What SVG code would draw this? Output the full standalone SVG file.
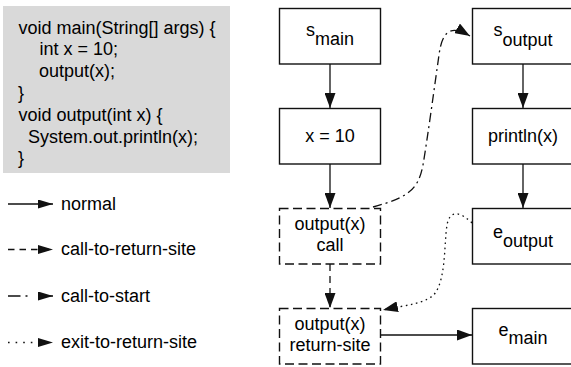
<svg xmlns="http://www.w3.org/2000/svg" width="571" height="367" viewBox="0 0 571 367">
<style>
text{font-family:"Liberation Sans",Arial,sans-serif;font-size:18px;fill:#000}
.c{text-anchor:middle}
.box{fill:#fff;stroke:#111;stroke-width:1.4}
.dbox{fill:#fff;stroke:#111;stroke-width:1.4;stroke-dasharray:9,4.5}
.e{fill:none;stroke:#111;stroke-width:1.3}
.n{marker-end:url(#ah)}
.l{marker-end:url(#al)}
.d{stroke-dasharray:7,5}
.dd{stroke-dasharray:9,4,2,4}
.dt{stroke-dasharray:1.6,3.6}
</style>
<defs>
<marker id="ah" viewBox="0 0 15 11" refX="15" refY="5.5" markerWidth="15" markerHeight="11" orient="auto" markerUnits="userSpaceOnUse">
<path d="M0,0 L15,5.5 L0,11 z" fill="#111"/>
</marker>
<marker id="al" viewBox="0 0 15 9" refX="15" refY="4.5" markerWidth="15" markerHeight="9" orient="auto" markerUnits="userSpaceOnUse">
<path d="M0,0 L15,4.5 L0,9 z" fill="#111"/>
</marker>
</defs>
<g id="code">
<rect x="3" y="6" width="227" height="167" fill="#d9d9d9"/>
<text x="18.5" y="33.5">void main(String[] args) {</text>
<text x="39.5" y="55.3">int x = 10;</text>
<text x="39" y="77.1">output(x);</text>
<text x="18" y="98.9">}</text>
<text x="18.5" y="120.7">void output(int x) {</text>
<text x="28" y="142.5">System.out.println(x);</text>
<text x="18" y="164.3">}</text>
</g>
<g id="legend">
<line class="e l" x1="8" y1="204" x2="53" y2="204"/>
<text x="61" y="209.5">normal</text>
<line class="e l" x1="8" y1="249.5" x2="53" y2="249.5" style="stroke-dasharray:6.5,5"/>
<text x="61" y="255">call-to-return-site</text>
<line class="e l" x1="8" y1="296" x2="53" y2="296" style="stroke-dasharray:12.5,5,2,20"/>
<text x="61" y="301.5">call-to-start</text>
<line class="e l" x1="8" y1="342.5" x2="53" y2="342.5" style="stroke-dasharray:1.6,6"/>
<text x="61" y="348">exit-to-return-site</text>
</g>
<g id="edges">
<line class="e n" x1="330" y1="64" x2="330" y2="108"/>
<line class="e n" x1="330" y1="164" x2="330" y2="208"/>
<line class="e n d" x1="330" y1="264" x2="330" y2="308"/>
<line class="e n" x1="381" y1="335" x2="472" y2="335"/>
<line class="e n" x1="523" y1="64" x2="523" y2="108"/>
<line class="e n" x1="523" y1="164" x2="523" y2="208"/>
<path class="e n dd" d="M373,207 C405,198 418,192 423,165 C428,135 434,90 439,55 C442,32 450,24 470,36"/>
<path class="e n dt" d="M472,223 C462,213 450,208 447,225 C444,245 446,275 436,292 C428,304 405,305 383,310"/>
</g>
<g id="s_main">
<rect class="box" x="279.5" y="8.5" width="101" height="55.5"/>
<text class="c" x="330" y="36">s<tspan dy="9">main</tspan></text>
</g>
<g id="x10">
<rect class="box" x="279.5" y="108.5" width="101" height="55.5"/>
<text class="c" x="330" y="142">x = 10</text>
</g>
<g id="call">
<rect class="dbox" x="279.5" y="208.5" width="101" height="55.5"/>
<text class="c" x="330" y="229.5">output(x)</text>
<text class="c" x="330" y="251">call</text>
</g>
<g id="return_site">
<rect class="dbox" x="279.5" y="308.5" width="101" height="55.5"/>
<text class="c" x="330" y="329.5">output(x)</text>
<text class="c" x="330" y="351">return-site</text>
</g>
<g id="s_output">
<rect class="box" x="472.5" y="8.5" width="102" height="55.5"/>
<text class="c" x="523" y="36">s<tspan dy="9.5">output</tspan></text>
</g>
<g id="println">
<rect class="box" x="472.5" y="108.5" width="102" height="55.5"/>
<text class="c" x="523" y="142">println(x)</text>
</g>
<g id="e_output">
<rect class="box" x="472.5" y="208.5" width="102" height="55.5"/>
<text class="c" x="523" y="238">e<tspan dy="8.5">output</tspan></text>
</g>
<g id="e_main">
<rect class="box" x="472.5" y="308.5" width="102" height="55.5"/>
<text class="c" x="523" y="336">e<tspan dy="8">main</tspan></text>
</g>
</svg>
